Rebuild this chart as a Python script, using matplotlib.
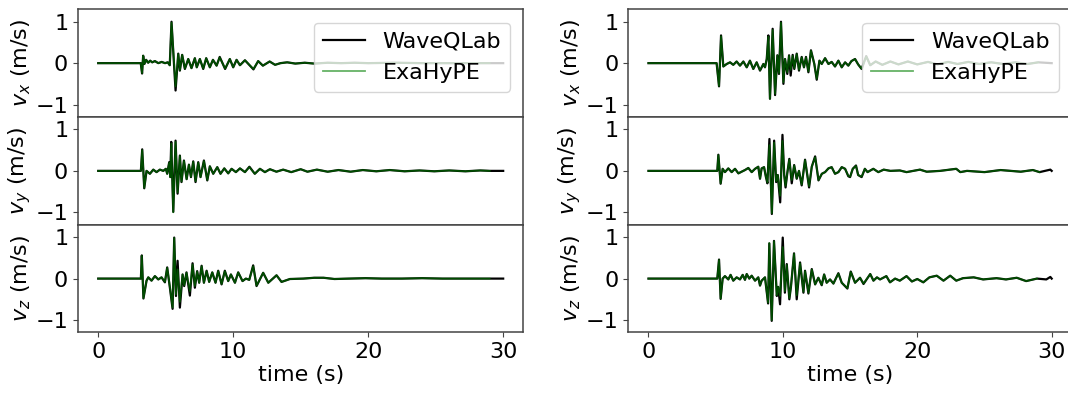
import numpy as np
import matplotlib
matplotlib.use("Agg")
import matplotlib.pyplot as plt

# station 1 (left column) -- keypoints
t_left_x = [0, 3.15, 3.25, 3.33, 3.42, 3.55, 3.7, 3.85, 4.0, 4.2, 4.45, 4.7, 4.95, 5.15, 5.3, 5.43,
            5.73, 5.93, 6.05, 6.22, 6.42, 6.67, 6.91, 7.16, 7.3, 7.53, 7.78, 8.0, 8.27, 8.5, 8.77,
            9.0, 9.4, 9.75, 10.0, 10.25, 10.5, 10.87, 11.5, 11.85, 12.2, 12.7, 13.1, 13.5, 14.0,
            14.6, 15.3, 16.0, 17.0, 18.0, 19.0, 20.0, 22.0, 24.0, 26.0, 28.0, 29.0, 30.0]
wq_left_x = [0, 0, -0.25, 0.18, -0.02, 0.08, 0.01, 0.06, 0.02, 0.05, 0.0, 0.03, 0.0, 0.02, -0.05, 1.0,
             -0.66, 0.23, -0.18, 0.2, -0.14, 0.1, -0.12, 0.12, -0.1, 0.1, -0.14, 0.12, -0.1, 0.08, -0.06,
             0.15, -0.14, 0.1, -0.1, 0.08, -0.05, 0.07, -0.15, 0.05, -0.06, 0.04, -0.04, 0.0, 0.02,
             -0.01, 0.01, -0.01, 0.01, 0.0, 0.01, 0.0, 0.01, 0.0, 0.0, 0.0, 0.0, 0.0]
exa_left_x = [0, 0, -0.24, 0.18, -0.02, 0.08, 0.01, 0.06, 0.02, 0.05, 0.0, 0.03, 0.0, 0.02, -0.05, 0.98,
              -0.56, 0.22, -0.17, 0.2, -0.13, 0.1, -0.12, 0.12, -0.1, 0.1, -0.13, 0.12, -0.1, 0.08, -0.06,
              0.14, -0.13, 0.1, -0.1, 0.08, -0.05, 0.07, -0.14, 0.05, -0.06, 0.04, -0.04, 0.0, 0.02,
              -0.01, 0.01, -0.01, 0.01, 0.0, 0.01, 0.0, 0.01, 0.0, 0.0, 0.0, 0.0, np.nan]

t_left_y = [0, 3.16, 3.26, 3.41, 3.58, 3.83, 4.08, 4.32, 4.57, 4.82, 5.01, 5.11, 5.26, 5.34, 5.41,
            5.56, 5.73, 5.88, 6.05, 6.17, 6.35, 6.55, 6.72, 6.87, 7.04, 7.21, 7.41, 7.58, 7.83, 8.08,
            8.27, 8.52, 8.82, 9.06, 9.34, 9.63, 9.88, 10.2, 10.5, 10.87, 11.2, 11.6, 11.98, 12.35,
            12.72, 13.2, 13.7, 14.3, 15.0, 15.5, 16.2, 17.0, 17.8, 18.7, 19.6, 20.6, 21.6, 22.7,
            23.8, 24.9, 26.0, 27.2, 28.3, 29.0, 30.0]
wq_left_y = [0, 0, 0.52, -0.42, 0.0, -0.07, 0.03, -0.03, 0.03, 0.0, 0.05, -0.07, 0.21, -0.15, 0.7,
             -0.99, 0.73, -0.55, 0.37, -0.27, 0.25, -0.2, 0.15, -0.15, 0.23, -0.27, 0.21, -0.15, 0.25, -0.23,
             0.11, -0.07, 0.09, -0.07, 0.06, -0.06, 0.05, -0.03, 0.06, -0.03, 0.1, -0.07, 0.05, -0.03,
             0.04, -0.02, 0.03, -0.03, 0.04, -0.02, 0.03, -0.02, 0.02, -0.02, 0.02, -0.01, 0.02, -0.01,
             0.01, -0.01, 0.01, -0.01, 0.01, 0.0, 0.0]
exa_left_y = [0, 0, 0.5, -0.41, 0.0, -0.07, 0.03, -0.03, 0.03, 0.0, 0.05, -0.07, 0.2, -0.15, 0.66,
              -1.0, 0.7, -0.52, 0.36, -0.26, 0.24, -0.2, 0.15, -0.14, 0.22, -0.25, 0.2, -0.15, 0.24, -0.22,
              0.11, -0.07, 0.09, -0.07, 0.06, -0.06, 0.05, -0.03, 0.06, -0.03, 0.09, -0.07, 0.05, -0.03,
              0.04, -0.02, 0.03, -0.03, 0.04, -0.02, 0.03, -0.02, 0.02, -0.02, 0.02, -0.01, 0.02, -0.01,
              0.01, -0.01, 0.01, -0.01, 0.01, 0.0, np.nan]

t_left_z = [0, 3.16, 3.23, 3.35, 3.58, 3.71, 3.95, 4.2, 4.45, 4.69, 4.94, 5.11, 5.31, 5.51, 5.63,
            5.76, 5.88, 6.05, 6.25, 6.37, 6.54, 6.79, 6.99, 7.16, 7.33, 7.48, 7.66, 7.83, 8.03, 8.22,
            8.45, 8.69, 8.89, 9.14, 9.38, 9.63, 9.83, 10.13, 10.37, 10.69, 10.94, 11.19, 11.48, 11.73,
            12.22, 12.6, 13.21, 13.58, 14.2, 15.2, 16.0, 16.7, 17.5, 18.6, 19.8, 21.0, 22.5, 24.0,
            25.5, 27.0, 28.2, 29.0, 30.0]
wq_left_z = [0, 0, 0.56, -0.48, -0.05, 0.03, -0.05, 0.06, -0.02, 0.03, -0.09, 0.27, -0.22, -0.73, 0.99,
             -0.42, 0.43, -0.7, 0.1, -0.18, 0.15, -0.41, 0.37, -0.22, 0.18, -0.1, 0.31, -0.1, 0.19, -0.08,
             0.15, -0.1, 0.19, -0.14, 0.19, -0.06, 0.1, -0.1, 0.15, -0.06, 0.0, -0.03, 0.32, -0.18,
             0.14, -0.1, 0.08, -0.08, -0.01, 0.0, 0.02, 0.02, -0.01, 0.0, 0.01, 0.0, 0.0, 0.01,
             0.0, 0.0, 0.0, 0.0, 0.0]
exa_left_z = [0, 0, 0.55, -0.47, -0.05, 0.03, -0.05, 0.06, -0.02, 0.03, -0.08, 0.26, -0.2, -0.7, 0.98,
              -0.38, 0.22, -0.56, 0.1, -0.16, 0.14, -0.3, 0.34, -0.18, 0.17, -0.1, 0.3, -0.1, 0.18, -0.08,
              0.15, -0.1, 0.18, -0.13, 0.18, -0.06, 0.1, -0.1, 0.15, -0.06, 0.0, -0.03, 0.3, -0.17,
              0.14, -0.1, 0.08, -0.08, -0.01, 0.0, 0.02, 0.02, -0.01, 0.0, 0.01, 0.0, 0.0, 0.01,
              0.0, 0.0, 0.0, 0.0, np.nan]

# station 2 (right column)
t_right_x = [0, 5.07, 5.25, 5.4, 5.57, 5.82, 6.07, 6.31, 6.56, 6.81, 7.06, 7.31, 7.55, 7.8, 8.05,
             8.3, 8.55, 8.67, 8.8, 8.92, 9.04, 9.24, 9.42, 9.59, 9.71, 9.86, 10.04, 10.16, 10.33, 10.46,
             10.58, 10.73, 10.85, 11.03, 11.2, 11.4, 11.57, 11.72, 11.9, 12.09, 12.34, 12.52, 12.72,
             12.89, 13.14, 13.39, 13.63, 13.88, 14.13, 14.38, 14.63, 14.87, 15.1, 15.37, 15.6, 15.86,
             16.2, 16.5, 16.9, 17.4, 18.0, 18.6, 19.3, 20.0, 20.8, 21.5, 22.3, 23.0, 23.8, 24.6,
             25.5, 26.4, 27.3, 28.2, 29.0, 30.0]
wq_right_x = [0, 0, -0.56, 0.67, -0.08, -0.02, 0.02, -0.04, 0.04, -0.06, 0.04, -0.1, 0.06, -0.14, 0.02,
              -0.18, -0.02, -0.1, 0.1, 0.67, -0.86, 0.83, -0.77, 0.19, -0.26, 1.0, -0.5, 0.1, -0.26, 0.19,
              -0.3, 0.2, -0.14, 0.23, -0.18, 0.15, -0.1, 0.15, -0.22, 0.31, -0.02, -0.4, 0.06,
              -0.02, 0.12, -0.02, 0.03, -0.08, 0.06, -0.1, 0.02, -0.06, 0.05, 0.1, -0.03, -0.14,
              0.17, -0.05, 0.04, -0.04, 0.04, -0.03, 0.04, -0.03, 0.03, -0.03, 0.03, -0.02, 0.03, -0.02,
              0.02, -0.02, 0.02, -0.02, 0.02, 0.0]
exa_right_x = [0, 0, -0.55, 0.65, -0.08, -0.02, 0.02, -0.04, 0.04, -0.06, 0.04, -0.1, 0.06, -0.14, 0.02,
               -0.17, -0.02, -0.1, 0.1, 0.64, -0.86, 0.8, -0.74, 0.19, -0.24, 0.98, -0.46, 0.1, -0.22, 0.18,
               -0.16, 0.18, -0.12, 0.22, -0.16, 0.14, -0.1, 0.14, -0.2, 0.3, -0.02, -0.38, 0.06,
               -0.02, 0.12, -0.02, 0.03, -0.08, 0.06, -0.1, 0.02, -0.06, 0.05, 0.1, -0.03, -0.13,
               0.16, -0.05, 0.04, -0.04, 0.04, -0.03, 0.04, -0.03, 0.03, -0.03, 0.03, -0.02, 0.03, -0.02,
               0.02, -0.02, 0.02, -0.02, 0.02, np.nan]

t_right_y = [0, 5.12, 5.2, 5.37, 5.52, 5.69, 5.94, 6.19, 6.44, 6.69, 6.93, 7.18, 7.43, 7.68, 7.93,
             8.17, 8.3, 8.42, 8.6, 8.74, 8.85, 9.0, 9.18, 9.35, 9.5, 9.62, 9.8, 9.97, 10.1, 10.2,
             10.33, 10.48, 10.66, 10.84, 11.03, 11.2, 11.4, 11.65, 11.95, 12.15, 12.4, 12.65, 12.9,
             13.14, 13.39, 13.63, 13.88, 14.13, 14.38, 14.63, 14.87, 15.0, 15.2, 15.44, 15.6, 15.86,
             16.1, 16.3, 16.73, 17.1, 17.5, 18.0, 18.7, 19.2, 20.2, 20.7, 21.7, 22.9, 23.2, 23.7,
             25.0, 26.2, 27.7, 28.6, 29.1, 29.9, 30.0]
wq_right_y = [0, 0, 0.39, -0.31, 0.05, -0.03, 0.06, -0.03, 0.05, -0.06, -0.02, 0.02, 0.07, -0.03, 0.05,
              0.1, -0.19, 0.06, 0.09, -0.15, -0.3, 0.77, -1.04, 0.73, -0.27, -0.1, -0.76, 0.87, -0.1, -0.4,
              -0.05, 0.29, -0.3, 0.14, -0.19, 0.0, -0.35, 0.27, -0.4, 0.1, 0.35, -0.23, -0.07,
              -0.03, 0.06, 0.09, -0.07, -0.03, 0.09, 0.05, -0.13, -0.15, 0.05, 0.13, -0.1, -0.15,
              0.05, -0.03, 0.05, -0.03, 0.03, 0.0, 0.01, -0.03, 0.03, -0.02, 0.0, 0.05, -0.03, 0.0,
              -0.03, 0.02, -0.02, 0.02, -0.03, 0.03, 0.0]
exa_right_y = [0, 0, 0.38, -0.3, 0.05, -0.03, 0.06, -0.03, 0.05, -0.06, -0.02, 0.02, 0.07, -0.03, 0.05,
               0.1, -0.18, 0.06, 0.09, -0.14, -0.28, 0.62, -1.02, 0.68, -0.25, -0.1, -0.6, 0.72, -0.1, -0.36,
               -0.05, 0.27, -0.22, 0.13, -0.18, 0.0, -0.33, 0.26, -0.37, 0.1, 0.33, -0.22, -0.07,
               -0.03, 0.06, 0.09, -0.07, -0.03, 0.09, 0.05, -0.12, -0.14, 0.05, 0.12, -0.1, -0.14,
               0.05, -0.03, 0.05, -0.03, 0.03, 0.0, 0.01, -0.03, 0.03, -0.02, 0.0, 0.05, -0.03, 0.0,
               -0.03, 0.02, -0.02, 0.02, -0.03, np.nan, np.nan]

t_right_z = [0, 5.12, 5.25, 5.37, 5.52, 5.69, 5.94, 6.11, 6.31, 6.56, 6.81, 7.01, 7.18, 7.31, 7.5,
             7.68, 7.93, 8.17, 8.3, 8.42, 8.67, 8.9, 8.99, 9.17, 9.34, 9.55, 9.65, 9.79, 9.99, 10.15,
             10.29, 10.48, 10.6, 10.83, 11.03, 11.28, 11.53, 11.65, 11.9, 12.15, 12.4, 12.64, 12.89,
             13.07, 13.26, 13.51, 13.76, 14.13, 14.38, 14.8, 15.05, 15.37, 15.74, 16.0, 16.5, 16.74,
             17.0, 17.23, 17.7, 17.97, 18.35, 18.7, 19.2, 19.6, 20.0, 20.45, 20.9, 21.45, 21.95, 22.45,
             22.9, 23.4, 24.2, 24.9, 25.9, 26.6, 27.4, 28.1, 28.9, 29.6, 29.9, 30.0]
wq_right_z = [0, 0, 0.46, -0.49, 0.0, 0.06, -0.02, 0.09, -0.05, 0.03, -0.02, 0.09, -0.03, 0.11, 0.0,
              0.07, -0.05, 0.03, -0.17, -0.05, 0.03, -0.6, 0.85, -1.02, 0.91, -0.42, -0.2, -0.62, 0.99, -0.34,
              0.35, -0.5, -0.2, 0.61, -0.5, 0.39, -0.34, 0.19, -0.36, 0.23, -0.14, 0.02, -0.16,
              0.1, -0.1, -0.02, -0.12, 0.13, -0.1, -0.24, 0.17, -0.1, 0.02, -0.13, 0.11, -0.05,
              0.03, -0.02, 0.06, -0.09, 0.0, -0.05, 0.06, -0.07, -0.01, -0.09, 0.03, 0.07, -0.05, 0.07,
              -0.05, 0.01, 0.03, -0.02, 0.01, -0.02, 0.02, -0.06, 0.0, -0.02, 0.04, 0.0]
exa_right_z = [0, 0, 0.45, -0.48, 0.0, 0.06, -0.02, 0.09, -0.05, 0.03, -0.02, 0.09, -0.03, 0.11, 0.0,
               0.07, -0.05, 0.03, -0.16, -0.05, 0.03, -0.58, 0.86, -1.0, 0.9, -0.4, -0.2, -0.42, 0.76, -0.3,
               0.33, -0.47, -0.2, 0.6, -0.4, 0.37, -0.32, 0.18, -0.34, 0.22, -0.14, 0.02, -0.15,
               0.1, -0.1, -0.02, -0.12, 0.12, -0.1, -0.23, 0.16, -0.1, 0.02, -0.12, 0.11, -0.05,
               0.03, -0.02, 0.06, -0.09, 0.0, -0.05, 0.06, -0.07, -0.01, -0.09, 0.03, 0.07, -0.05, 0.07,
               -0.05, 0.01, 0.03, -0.02, 0.01, -0.02, 0.02, -0.06, 0.0, np.nan, np.nan, np.nan]

labels = ["$v_x$ (m/s)", "$v_y$ (m/s)", "$v_z$ (m/s)"]

columns = [
    [(t_left_x, wq_left_x, exa_left_x), (t_left_y, wq_left_y, exa_left_y), (t_left_z, wq_left_z, exa_left_z)],
    [(t_right_x, wq_right_x, exa_right_x), (t_right_y, wq_right_y, exa_right_y), (t_right_z, wq_right_z, exa_right_z)],
]

plt.rcParams['font.family'] = 'DejaVu Sans'
fig = plt.figure(figsize=(10.68, 3.94), dpi=100)

col_left = [0.073, 0.5883]
col_width = [0.4171, 0.4153]
row_h = 0.2734
row_bottom = [0.7030, 0.4296, 0.1562]
fs = 16

for c, traces in enumerate(columns):
    for r, (t, wq, exa) in enumerate(traces):
        ax = fig.add_axes([col_left[c], row_bottom[r], col_width[c], row_h])
        ax.plot(t, wq, color='k', lw=1.6, label='WaveQLab')
        ax.plot(t, exa, color='g', lw=1.3, alpha=0.6, label='ExaHyPE')
        ax.set_xlim(-1.5, 31.5)
        ax.set_ylim(-1.3, 1.3)
        ax.set_yticks([-1, 0, 1])
        ax.set_xticks([0, 10, 20, 30])
        ax.set_ylabel(labels[r], fontsize=fs, labelpad=2)
        ax.tick_params(labelsize=fs, color='#444444')
        for s in ax.spines.values():
            s.set_color('#444444')
            s.set_linewidth(1.1)
        if r < 2:
            ax.tick_params(bottom=False, labelbottom=False)
        else:
            ax.set_xlabel('time (s)', fontsize=fs, labelpad=2)
        if r == 0:
            ax.legend(loc='upper right', fontsize=fs, handlelength=1.9, borderaxespad=0.6)

fig.savefig('out.png', dpi=100)
